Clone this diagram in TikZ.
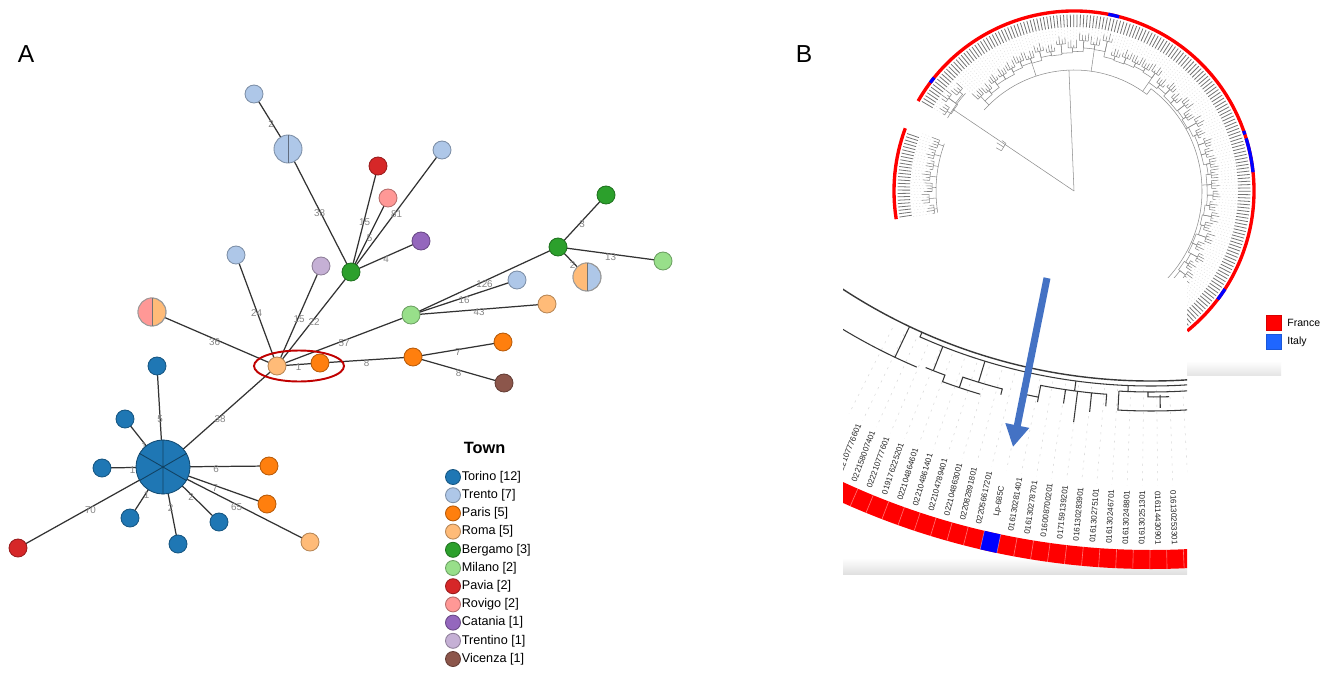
\documentclass[tikz,border=0pt]{standalone}
\usepackage{fontspec}
\setmainfont{Liberation Sans}
\usetikzlibrary{arrows.meta}
\pgfdeclarelayer{bg}
\pgfdeclarelayer{paper}
\pgfsetlayers{paper,bg,main}
\definecolor{cTorino}{HTML}{1F77B4}
\definecolor{cTrento}{HTML}{AEC7E8}
\definecolor{cParis}{HTML}{FF7F0E}
\definecolor{cRoma}{HTML}{FFBB78}
\definecolor{cBergamo}{HTML}{2CA02C}
\definecolor{cMilano}{HTML}{98DF8A}
\definecolor{cPavia}{HTML}{D62728}
\definecolor{cRovigo}{HTML}{FF9896}
\definecolor{cCatania}{HTML}{9467BD}
\definecolor{cTrentino}{HTML}{C5B0D5}
\definecolor{cVicenza}{HTML}{8C564B}
\definecolor{ringred}{HTML}{FF0000}
\definecolor{ringblue}{HTML}{0000FF}
\definecolor{legblue}{HTML}{1F66FF}
\definecolor{arrowblue}{HTML}{4472C4}
\definecolor{ellred}{HTML}{C00000}
\begin{document}
\begin{tikzpicture}[x=0.02cm,y=-0.02cm,
  nd/.style={circle,inner sep=0pt,minimum size=0.36cm,line width=0.5pt,fill=#1,draw=#1!72!black},
  ndbig/.style={circle,inner sep=0pt,minimum size=#1,line width=0.5pt},
  edge/.style={line width=0.7pt,draw=black!80},
  elab/.style={font=\fontsize{5.6}{6}\selectfont,text=black!48,inner sep=0pt,yshift=-0.055cm},
  legdot/.style={circle,inner sep=0pt,minimum size=0.3cm,line width=0.5pt,fill=#1,draw=#1!72!black},
  legtxt/.style={anchor=west,inner sep=0pt,font=\fontsize{7.2}{8.6}\selectfont},
  tick/.style={line width=0.45pt,draw=black!55},
  leaf/.style={line width=0.3pt,draw=black!50},
  dotl/.style={line width=0.2pt,draw=black!15,dash pattern=on 0.6pt off 1.2pt},
  clade/.style={line width=0.3pt,draw=black!45},
  itree/.style={line width=0.6pt,draw=black!78},
  dashl/.style={line width=0.3pt,draw=black!15,dash pattern=on 1.2pt off 3pt},
  lbl/.style={font=\fontsize{4.6}{5.5}\selectfont,inner sep=0pt,text=black!85},
]
\useasboundingbox (0,0) rectangle (1325,676);
\begin{pgfonlayer}{paper}
\fill[white] (0,0) rectangle (1325,676);
\end{pgfonlayer}

% ---------------- panel labels
\node[font=\fontsize{14}{16}\selectfont] (labA) at (26,54) {A};
\node[font=\fontsize{14}{16}\selectfont] (labB) at (804,54) {B};

% ---------------- Panel A nodes
\node[nd=cTrento] (t1) at (254,94) {};
\node[ndbig=0.56cm,fill=cTrento,draw=cTrento!72!black] (t2) at (288,149) {};
\draw[cTrento!55!black,line width=0.5pt] (t2.north) -- (t2.south);
\node[nd=cPavia] (pv1) at (378,166) {};
\node[nd=cRovigo] (rv1) at (388,198) {};
\node[nd=cTrento] (t3) at (442,150) {};
\node[nd=cCatania] (ct) at (421,241) {};
\node[nd=cBergamo] (bg1) at (351,272) {};
\node[nd=cTrentino] (tt) at (321,266) {};
\node[nd=cTrento] (t4) at (236,255) {};
\node[ndbig=0.56cm,fill=cRoma,draw=black!40] (sp1) at (152,312) {};
\fill[cRovigo] (sp1.north) arc[start angle=90,end angle=270,radius=0.28cm] -- cycle;
\draw[black!40,line width=0.5pt] (sp1) circle[radius=0.28cm];
\draw[black!55,line width=0.5pt] (sp1.north) -- (sp1.south);
\node[nd=cRoma] (rm1) at (277,366) {};
\node[nd=cParis] (pa1) at (320,363) {};
\node[nd=cMilano] (ml1) at (411,315) {};
\node[nd=cParis] (pa2) at (413,357) {};
\node[nd=cParis] (pa3) at (503,342) {};
\node[nd=cVicenza] (vi) at (504,383) {};
\node[nd=cBergamo] (bg2) at (558,247) {};
\node[nd=cBergamo] (bg3) at (606,195) {};
\node[nd=cMilano] (ml2) at (663,261) {};
\node[ndbig=0.56cm,fill=cTrento,draw=black!40] (sp2) at (587,277) {};
\fill[cRoma] (sp2.north) arc[start angle=90,end angle=270,radius=0.28cm] -- cycle;
\draw[black!40,line width=0.5pt] (sp2) circle[radius=0.28cm];
\draw[black!55,line width=0.5pt] (sp2.north) -- (sp2.south);
\node[nd=cTrento] (t5) at (517,280) {};
\node[nd=cRoma] (rm2) at (547,304) {};
\node[ndbig=1.08cm,fill=cTorino,draw=cTorino!65!black] (to0) at (163,467) {};
\draw[cTorino!55!black,line width=0.5pt] (to0.90)--(to0.270) (to0.30)--(to0.210) (to0.150)--(to0.330);
\node[nd=cTorino] (to1) at (157,366) {};
\node[nd=cTorino] (to2) at (125,419) {};
\node[nd=cTorino] (to3) at (102,468) {};
\node[nd=cTorino] (to4) at (130,518) {};
\node[nd=cTorino] (to5) at (178,544) {};
\node[nd=cTorino] (to6) at (219,522) {};
\node[nd=cParis] (pa4) at (269,466) {};
\node[nd=cParis] (pa5) at (267,504) {};
\node[nd=cRoma] (rm3) at (310,542) {};
\node[nd=cPavia] (pv2) at (18,548) {};

% ---------------- Panel A edges
\begin{pgfonlayer}{bg}
\foreach \na/\nb/\lab in {t1/t2/2, t2/bg1/38, pv1/bg1/15, rv1/bg1/5, t3/bg1/81, ct/bg1/4,
  bg1/rm1/22, tt/rm1/15, t4/rm1/24, sp1/rm1/36, rm1/pa1/1, rm1/ml1/57, ml1/bg2/126,
  ml1/t5/16, ml1/rm2/43, pa1/pa2/8, pa2/pa3/7, pa2/vi/8, bg2/bg3/3, bg2/ml2/13, bg2/sp2/2,
  rm1/to0/38, to1/to0/5, to2/to0/1, to3/to0/1, to4/to0/1, to5/to0/2, to6/to0/2,
  pa4/to0/6, pa5/to0/7, rm3/to0/65, pv2/to0/70}
  \draw[edge] (\na.center) -- node[elab]{\lab} (\nb.center);
\end{pgfonlayer}

% highlight ellipse
\coordinate (hlc) at (299,366);
\draw[ellred,line width=1.1pt] (hlc) ellipse[x radius=45,y radius=15.5];

% ---------------- Panel A legend
\node[font=\bfseries\fontsize{9.3}{11}\selectfont,anchor=base,inner sep=0pt] (legT) at (484.5,453) {Town};
\foreach \i/\cc/\txt in {0/cTorino/{Torino [12]},1/cTrento/{Trento [7]},2/cParis/{Paris [5]},
  3/cRoma/{Roma [5]},4/cBergamo/{Bergamo [3]},5/cMilano/{Milano [2]},6/cPavia/{Pavia [2]},
  7/cRovigo/{Rovigo [2]},8/cCatania/{Catania [1]},9/cTrentino/{Trentino [1]},10/cVicenza/{Vicenza [1]}} {
  \node[legdot=\cc] (lg\i) at (453,{477+18.2*\i}) {};
  \node[legtxt] (lt\i) at (461.5,{477+18.2*\i}) {\txt};
}

% ---------------- Panel B circular tree
\begin{scope}[shift={(1074,191)}]
  % ring
  \draw[ringred,line width=1.9pt] (-150:180) arc[start angle=-150,end angle=51,radius=180];
  \draw[ringred,line width=1.9pt] (-189:180) arc[start angle=-189,end angle=-159.6,radius=180];
  \foreach \sa/\ea in {-79/-75.5, -143/-141, -17/-6, -19.5/-18.3, 33/37}
    \draw[ringblue,line width=1.9pt] (\sa:180) arc[start angle=\sa,end angle=\ea,radius=180];
  % ticks
  \foreach \an in {-149.5,-148.4,...,50.6} \draw[tick] (\an:164) -- (\an:176.5);
  \foreach \an in {-188.5,-187.4,...,-160.1} \draw[tick] (\an:164) -- (\an:176.5);
  % backbone
  \draw[clade] (0:0) -- (-92.4:121);
  \draw[clade] (0:0) -- (-146:146);
  \draw[clade] (-151:83) arc[start angle=-151,end angle=-145,radius=83];
  \draw[clade] (-151:83) -- (-151:89) (-145:83) -- (-145:88) (-148:83) -- (-148:91);
  \draw[clade] (-150:146) arc[start angle=-150,end angle=-138,radius=146];
  \draw[clade] (-138:121) arc[start angle=-138,end angle=-53,radius=121] -- (-53:128)
     arc[start angle=-53,end angle=48,radius=128];
  \draw[clade] (-189:138) arc[start angle=-189,end angle=-160,radius=138];
  % groups of leaves, main part (ladder-like chain)
  \foreach \g in {0,...,45} {
    \pgfmathsetmacro\sa{-149.5+4.4*\g}
    \pgfmathsetmacro\ea{\sa+3.3}
    \pgfmathsetmacro\m{\sa+1.65}
    \pgfmathsetmacro\mn{\m+4.4}
    \pgfmathsetmacro\bb{(\m < -138.5) ? 146 : ((\m < -53) ? 121 : 128)}
    \pgfmathsetmacro\rb{((\m < -138.5) ? 150 : ((\m < -77) ? (126+(\m+138)*0.36) : ((\m < -55) ? 138 : 134))) + 6*abs(sin(\g*97))}
    \pgfmathsetmacro\rn{((\mn < -138.5) ? 150 : ((\mn < -77) ? (126+(\mn+138)*0.36) : ((\mn < -55) ? 138 : 134))) + 6*abs(sin((\g+1)*97))}
    \pgfmathsetmacro\rs{min(\rb,\rn)-3-2*abs(cos(\g*61))}
    \pgfmathsetmacro\link{((\g==2) || (\g==45)) ? 0 : 1}
    \pgfmathsetmacro\spoke{(mod(\g,6)==3) ? 1 : 0}
    \draw[clade] (\sa:\rb) arc[start angle=\sa,end angle=\ea,radius=\rb];
    \ifdim\link pt>0.5pt
      \draw[clade] (\m:\rb) -- (\m:\rs) arc[start angle=\m,end angle=\mn,radius=\rs] -- (\mn:\rn);
    \fi
    \ifdim\spoke pt>0.5pt
      \draw[clade] (\m:\bb) -- (\m:\rs);
    \fi
    \foreach \j in {0,...,3} {
      \pgfmathsetmacro\an{\sa+1.1*\j}
      \pgfmathsetmacro\rt{\rb+2+6*abs(sin(\g*31+\j*71))}
      \draw[leaf] (\an:\rb) -- (\an:\rt);
      \draw[dotl] (\an:\rt) -- (\an:163);
    }
  }
  % left clade
  \foreach \g in {0,...,6} {
    \pgfmathsetmacro\sa{-189+4.4*\g}
    \pgfmathsetmacro\ea{\sa+3.3}
    \pgfmathsetmacro\m{\sa+1.65}
    \pgfmathsetmacro\rb{141+4*abs(sin(\g*97))}
    \draw[clade] (\m:138) -- (\m:\rb);
    \draw[clade] (\sa:\rb) arc[start angle=\sa,end angle=\ea,radius=\rb];
    \foreach \j in {0,...,3} {
      \pgfmathsetmacro\an{\sa+1.1*\j}
      \pgfmathsetmacro\rt{\rb+2+6*abs(sin(\g*43+\j*67))}
      \draw[leaf] (\an:\rb) -- (\an:\rt);
      \draw[dotl] (\an:\rt) -- (\an:163);
    }
  }
\end{scope}

% ---------------- inset (zoomed view)
\fill[white] (843,278) rectangle (1187,574);
\begin{scope}
  \clip (843,278) rectangle (1187,574);
  \shade[top color=white,bottom color=black!12] (843,558) rectangle (1187,574);
  \begin{scope}[shift={(1151,-182)}]
    \foreach \k in {-13,...,11} {
      \pgfmathsetmacro\ph{102.5+1.307*\k}
      \draw[dashl] (\ph:572) -- (\ph:668);
    }
    % tree
    \draw[itree,line width=0.8pt] (126:563) arc[start angle=126,end angle=83,radius=563];
    \draw[itree] (114:563) -- (114:568) arc[start angle=114,end angle=83,radius=568];
    \draw[itree] (126:597) arc[start angle=126,end angle=113.1,radius=597];
    \draw[itree] (115.4:563) -- (115.4:597);
    \draw[itree] (111.5:568) -- (111.5:594);
    \draw[itree] (112.3:594) arc[start angle=112.3,end angle=110.3,radius=594] -- (110.3:601)
       arc[start angle=110.3,end angle=106.5,radius=601];
    \draw[itree] (107:568) -- (107:590);
    \draw[itree] (108.6:601) -- (108.6:590) arc[start angle=108.6,end angle=104.6,radius=590] -- (104.6:596);
    \draw[itree] (97.6:568) -- (97.6:578);
    \draw[itree] (101:595) -- (101:578) arc[start angle=101,end angle=94.4,radius=578] -- (94.4:590);
    \foreach \p/\r in {98.5/592, 97.3/609, 95.9/597} \draw[itree] (\p:578) -- (\p:\r);
    \draw[itree] (102.2:590) arc[start angle=102.2,end angle=101,radius=590];
    \draw[itree] (92.3:568) -- (92.3:574);
    \draw[itree] (93.2:574) arc[start angle=93.2,end angle=83,radius=574];
    \draw[itree] (93.2:574) -- (93.2:593) arc[start angle=93.2,end angle=83,radius=593];
    \draw[itree] (89.1:577) -- (89.1:590);
    \draw[itree] (90.3:574) -- (90.3:579) arc[start angle=90.3,end angle=88.2,radius=579];
    % band
    \fill[ringred] (116:732) arc[start angle=116,end angle=84,radius=732] -- (84:751)
       arc[start angle=84,end angle=116,radius=751] -- cycle;
    \fill[ringblue] (103.15:732) arc[start angle=103.15,end angle=101.85,radius=732] -- (101.85:751)
       arc[start angle=101.85,end angle=103.15,radius=751] -- cycle;
    \foreach \k in {-13,...,11} {
      \pgfmathsetmacro\ph{102.5+1.307*(\k+0.5)}
      \draw[white,opacity=0.45,line width=0.35pt] (\ph:732) -- (\ph:751);
    }
    % leaf labels
    \foreach \txt [count=\j] in {022107776601,022158007401,022210777601,019176225201,022104864601,
      022104861401,022104789401,022104863001,022082891801,022056617201,Lp-685C,016130281401,
      016130278701,016008700201,017159139201,016130283901,016130275101,016130246701,
      016130248801,016130251301,016114430901,016130253301} {
      \pgfmathsetmacro\ph{102.5+1.307*(11-\j)}
      \pgfmathsetmacro\vis{90-(\ph-90)*0.85}
      \pgfmathsetmacro\rot{(\vis <= 90) ? \vis : (\vis-180)}
      \node[lbl,rotate=\rot] (leaf\j) at (\ph:700) {\txt};
    }
  \end{scope}
\end{scope}

% arrow
\coordinate (arS) at (1047,278);
\coordinate (arE) at (1013,447);
\draw[arrowblue,line width=4pt,-{Triangle[length=12.5pt,width=13pt]}] (arS) -- (arE);

% ---------------- Panel B legend
\shade[top color=white,bottom color=black!10] (1187,361) rectangle (1281,375);
\node[rectangle,minimum size=0.3cm,inner sep=0pt,fill=ringred,draw=ringred!85!black,line width=0.3pt] (frsq) at (1273.5,322.5) {};
\node[rectangle,minimum size=0.3cm,inner sep=0pt,fill=legblue,draw=legblue!85!black,line width=0.3pt] (itsq) at (1273.5,341.5) {};
\node[anchor=west,inner sep=0pt,font=\fontsize{6}{7}\selectfont] (frt) at (1287,322.5) {France};
\node[anchor=west,inner sep=0pt,font=\fontsize{6}{7}\selectfont] (itt) at (1287,341.5) {Italy};
\end{tikzpicture}
\end{document}
